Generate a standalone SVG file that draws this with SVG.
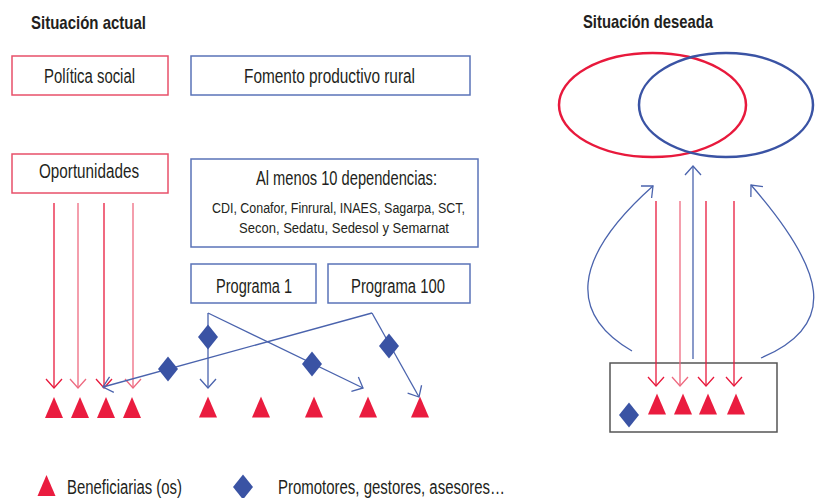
<svg xmlns="http://www.w3.org/2000/svg" width="818" height="498" viewBox="0 0 818 498">
<defs>
<style>
text{font-family:"Liberation Sans","DejaVu Sans",sans-serif;fill:#231f20;}
.t{font-weight:bold;font-size:18.5px;}
.n{font-size:20px;text-anchor:start;}
.s{font-size:15.5px;}
.rb{fill:#fff;stroke:#e8506a;stroke-width:1.5;}
.bb{fill:#fff;stroke:#5a73b8;stroke-width:1.5;}
.ra{stroke:#e8193c;stroke-width:1.3;fill:none;marker-end:url(#mr);}
.ra2{stroke:#ee6a80;stroke-width:1.3;fill:none;marker-end:url(#mr2);}
.ba{stroke:#4a63ad;stroke-width:1.3;fill:none;}
.bm{marker-end:url(#mb);}
.tri{fill:#ea1c3f;}
.dia{fill:#3a53a4;}
</style>
<marker id="mr" viewBox="-10 -9 11 18" refX="0" refY="0" markerWidth="11" markerHeight="18" orient="auto" markerUnits="userSpaceOnUse"><path d="M-9,-8 L0,0 L-9,8" fill="none" stroke="#e8193c" stroke-width="1.3"/></marker>
<marker id="mr2" viewBox="-10 -9 11 18" refX="0" refY="0" markerWidth="11" markerHeight="18" orient="auto" markerUnits="userSpaceOnUse"><path d="M-9,-8 L0,0 L-9,8" fill="none" stroke="#ee6a80" stroke-width="1.3"/></marker>
<marker id="mb" viewBox="-10 -9 11 18" refX="0" refY="0" markerWidth="11" markerHeight="18" orient="auto" markerUnits="userSpaceOnUse"><path d="M-9,-8 L0,0 L-9,8" fill="none" stroke="#4a63ad" stroke-width="1.3"/></marker>
<path id="tr" d="M0,-10.5 L9,10.5 L-9,10.5 Z"/>
<path id="dm" d="M0,-12.5 L10,0 L0,12.5 L-10,0 Z"/>
</defs>
<rect width="818" height="498" fill="#fff"/>

<text class="t" x="31" y="29" textLength="115" lengthAdjust="spacingAndGlyphs">Situación actual</text>
<text class="t" x="583" y="28" textLength="130" lengthAdjust="spacingAndGlyphs">Situación deseada</text>

<g id="politica-social"><rect class="rb" x="12" y="56" width="156" height="39"/><text class="n" x="44" y="83" textLength="91" lengthAdjust="spacingAndGlyphs">Política social</text></g>
<g id="fomento"><rect class="bb" x="191" y="56" width="279" height="39"/><text class="n" x="244" y="83" textLength="171" lengthAdjust="spacingAndGlyphs">Fomento productivo rural</text></g>
<g id="oportunidades"><rect class="rb" x="12" y="154" width="156" height="39"/><text class="n" x="39" y="178" textLength="100" lengthAdjust="spacingAndGlyphs">Oportunidades</text></g>
<g id="dependencias"><rect class="bb" x="191" y="159" width="287" height="88"/>
<text class="n" x="256" y="185" textLength="181" lengthAdjust="spacingAndGlyphs">Al menos 10 dependencias:</text>
<text class="s" x="212" y="213" textLength="253" lengthAdjust="spacingAndGlyphs">CDI, Conafor, Finrural, INAES, Sagarpa, SCT,</text>
<text class="s" x="239" y="233" textLength="210" lengthAdjust="spacingAndGlyphs">Secon, Sedatu, Sedesol y Semarnat</text></g>
<g id="programa-1"><rect class="bb" x="191" y="264" width="125" height="39"/><text class="n" x="216" y="293" textLength="76" lengthAdjust="spacingAndGlyphs">Programa 1</text></g>
<g id="programa-100"><rect class="bb" x="328" y="264" width="142" height="39"/><text class="n" x="351" y="293" textLength="94" lengthAdjust="spacingAndGlyphs">Programa 100</text></g>

<g id="venn">
<ellipse cx="652.5" cy="105" rx="93.5" ry="52" fill="none" stroke="#e8193c" stroke-width="2.5"/>
<ellipse cx="726" cy="105" rx="87" ry="52" fill="none" stroke="#3a53a4" stroke-width="2.5"/>
</g>

<g id="deseada-box"><rect x="610" y="363" width="167" height="69" fill="#fff" stroke="#555" stroke-width="1.5"/></g>

<g id="connectors">
<line class="ra" x1="54" y1="203" x2="54" y2="388"/>
<line class="ra2" x1="78" y1="203" x2="78" y2="388"/>
<line class="ra" x1="104" y1="203" x2="104" y2="388"/>
<line class="ra2" x1="133" y1="203" x2="133" y2="388"/>
<polyline class="ba bm" points="208,313 208,388"/>
<polyline class="ba bm" points="208,313 363,388"/>
<polyline class="ba bm" points="372,313 103,387"/>
<polyline class="ba bm" points="372,313 419,397"/>
<line class="ra" x1="656" y1="201" x2="656" y2="386"/>
<line class="ra2" x1="680" y1="201" x2="680" y2="386"/>
<line class="ra" x1="706" y1="201" x2="706" y2="386"/>
<line class="ra" x1="734" y1="201" x2="734" y2="386"/>
<line class="ba bm" x1="693" y1="359" x2="693" y2="166"/>
<path class="ba bm" d="M632,351 C570,315 570,260 653,186"/>
<path class="ba bm" d="M761,358 C840,325 825,270 751,185"/>
</g>

<g id="beneficiarios-actual">
<use href="#tr" class="tri" x="54" y="407.5"/>
<use href="#tr" class="tri" x="80" y="407.5"/>
<use href="#tr" class="tri" x="106" y="407.5"/>
<use href="#tr" class="tri" x="132" y="407.5"/>
<use href="#tr" class="tri" x="208" y="407"/>
<use href="#tr" class="tri" x="261" y="407"/>
<use href="#tr" class="tri" x="314" y="407"/>
<use href="#tr" class="tri" x="368" y="407"/>
<use href="#tr" class="tri" x="420" y="407"/>
</g>
<g id="promotores-actual">
<use href="#dm" class="dia" x="208" y="337"/>
<use href="#dm" class="dia" x="312" y="364"/>
<use href="#dm" class="dia" x="168" y="369"/>
<use href="#dm" class="dia" x="389" y="346"/>
</g>
<g id="deseada-contenido">
<use href="#tr" class="tri" x="657" y="404"/>
<use href="#tr" class="tri" x="683" y="404"/>
<use href="#tr" class="tri" x="708" y="404"/>
<use href="#tr" class="tri" x="736" y="404"/>
<use href="#dm" class="dia" x="629" y="415"/>
</g>

<g id="legend">
<use href="#tr" class="tri" x="46.5" y="485.5"/>
<text class="n" x="67" y="494" font-size="19" textLength="115" lengthAdjust="spacingAndGlyphs">Beneficiarias (os)</text>
<use href="#dm" class="dia" x="243" y="487"/>
<text class="n" x="278" y="494" font-size="19" textLength="227" lengthAdjust="spacingAndGlyphs">Promotores, gestores, asesores…</text>
</g>
</svg>
